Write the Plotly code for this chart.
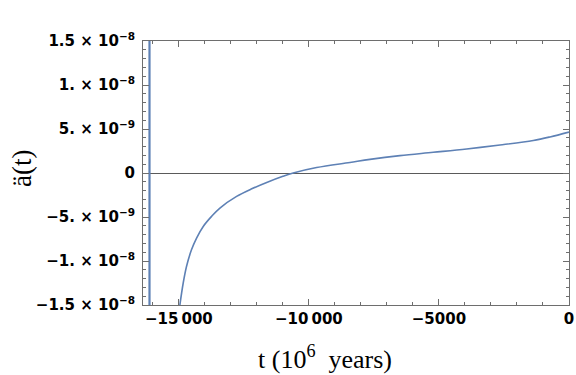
import plotly.graph_objects as go

# curve values (t in 10^6 years, acceleration)
t_curve = [-14962, -14834, -14705, -14512, -14320, -14064, -13743, -13423, -12781, -12200, -11600,
           -11000, -10604, -9704, -8423, -7654, -6500, -5218, -3935, -2654, -1373, -730, 0]
a_curve = [-1.5e-8, -1.25e-8, -1.06e-8, -8.7e-9, -7.39e-9, -6.07e-9, -4.93e-9, -3.98e-9, -2.66e-9, -1.8e-9, -1.05e-9,
           -3.8e-10, 0.0, 6.2e-10, 1.2e-9, 1.55e-9, 1.98e-9, 2.35e-9, 2.73e-9, 3.18e-9, 3.7e-9, 4.1e-9, 4.65e-9]

# singular jump near the start
t_spike = [-16130, -16130]
a_spike = [2.0e-8, -2.0e-8]

x_ticks = [-15000, -10000, -5000, 0]
x_labels = ["\u221215\u2009000", "\u221210\u2009000", "\u22125000", "0"]
y_ticks = [1.5e-8, 1e-8, 5e-9, 0, -5e-9, -1e-8, -1.5e-8]
y_labels = ["1.5 \u00d7 10<sup>\u22128</sup>", "1. \u00d7 10<sup>\u22128</sup>", "5. \u00d7 10<sup>\u22129</sup>", "0",
            "\u22125. \u00d7 10<sup>\u22129</sup>", "\u22121. \u00d7 10<sup>\u22128</sup>", "\u22121.5 \u00d7 10<sup>\u22128</sup>"]

blue = "rgb(94,129,181)"
frame = "rgb(110,110,110)"

fig = go.Figure()
fig.add_trace(go.Scatter(x=t_spike, y=a_spike, mode="lines", line=dict(color=blue, width=2.2), hoverinfo="skip"))
fig.add_trace(go.Scatter(x=t_curve, y=a_curve, mode="lines", line=dict(color=blue, width=1.6, shape="spline")))

tickfont = dict(family="DejaVu Sans", size=15, color="black", weight="bold")
fig.update_xaxes(range=[-16380, 0], tickmode="array", tickvals=x_ticks, ticktext=x_labels,
                 ticks="inside", ticklen=6, tickcolor=frame, mirror="allticks",
                 showline=True, linecolor=frame, linewidth=1, showgrid=False, zeroline=False,
                 minor=dict(ticks="inside", dtick=1000, ticklen=3, tickcolor=frame, showgrid=False),
                 tickfont=tickfont, ticklabelstandoff=0, ticklabeloverflow="allow", automargin=False)
fig.update_yaxes(range=[-1.5e-8, 1.5e-8], tickmode="array", tickvals=y_ticks, ticktext=y_labels,
                 ticks="inside", ticklen=6, tickcolor=frame, mirror="allticks",
                 showline=True, linecolor=frame, linewidth=1, showgrid=False,
                 zeroline=True, zerolinecolor="rgb(90,90,90)", zerolinewidth=1,
                 minor=dict(ticks="inside", dtick=1e-9, ticklen=3, tickcolor=frame, showgrid=False),
                 tickfont=tickfont, ticklabelstandoff=4, ticklabeloverflow="allow", automargin=False)

fig.add_annotation(text="t (10<sup>6</sup>  years)", xref="paper", yref="paper", x=0.427, y=-0.2,
                   xanchor="center", yanchor="middle", showarrow=False,
                   font=dict(family="Liberation Serif", size=26, color="black"))
fig.add_annotation(text="\u00e4(t)", xref="paper", yref="paper", x=-0.284, y=0.515, textangle=-90,
                   xanchor="center", yanchor="middle", showarrow=False,
                   font=dict(family="Liberation Serif", size=27, color="black"))
fig.update_layout(width=576, height=375, margin=dict(l=143, r=7, t=41, b=70),
                  plot_bgcolor="white", paper_bgcolor="white", showlegend=False)
fig.write_html("out.html", config={"displayModeBar": False},
               post_script="document.body.style.margin='0px';")
